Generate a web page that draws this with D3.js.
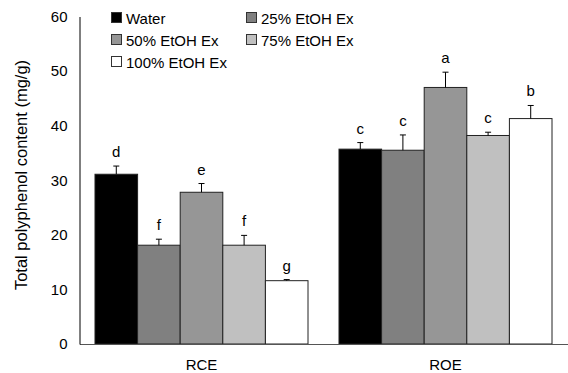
<!DOCTYPE html>
<html><head><meta charset="utf-8">
<script src="https://cdn.jsdelivr.net/npm/d3@7"></script>
<style>body{margin:0;background:#fff}svg{display:block}text{font-family:Arial,"Liberation Sans",sans-serif}</style>
</head><body><svg id="c" width="568" height="373"></svg>
<script>
const categories = ["RCE", "ROE"];
const seriesNames = ["Water", "25% EtOH Ex", "50% EtOH Ex", "75% EtOH Ex", "100% EtOH Ex"];
const seriesColors = ["#000000", "#808080", "#969696", "#c0c0c0", "#ffffff"];
const values = [[31.1, 35.7], [18.1, 35.5], [27.8, 47.0], [18.1, 38.2], [11.6, 41.3]];
const errors = [[1.5, 1.2], [1.1, 2.8], [1.6, 2.8], [1.8, 0.6], [0.2, 2.4]];
const letters = [["d", "c"], ["f", "c"], ["e", "a"], ["f", "c"], ["g", "b"]];
const yTicks = [0, 10, 20, 30, 40, 50, 60];

(function () {
const svg = d3.select("#c");
const mLeft = 79.5, mRight = 567.5, mTop = 16.5, mBottom = 344;
const x = d3.scaleBand().domain(categories).range([mLeft, mRight]).paddingInner(0.127).paddingOuter(0.0635);
const xs = d3.scaleBand().domain(seriesNames).range([0, x.bandwidth()]);
const y = d3.scaleLinear().domain([0, 60]).range([mBottom, mTop]);

// y axis
const ya = svg.append("g").attr("transform", `translate(${mLeft},0)`)
  .call(d3.axisLeft(y).tickValues(yTicks).tickSize(0).tickPadding(12).tickSizeOuter(0));
ya.select(".domain").attr("stroke", "#000");
ya.selectAll("text").attr("font-size", 15).attr("fill", "#000");

svg.append("text").attr("transform", `translate(23,175) rotate(-90)`)
  .attr("text-anchor", "middle").attr("dominant-baseline", "middle").attr("font-size", 16.5).text("Total polyphenol content (mg/g)");

// bars
seriesNames.forEach((s, i) => {
  const g = svg.append("g");
  categories.forEach((c, j) => {
    const bx = x(c) + xs(s), v = values[i][j], e = errors[i][j];
    const cx = bx + xs.bandwidth() / 2;
    g.append("rect").attr("x", bx).attr("y", y(v)).attr("width", xs.bandwidth()).attr("height", y(0) - y(v))
      .attr("fill", seriesColors[i]).attr("stroke", "#222").attr("stroke-width", 1);
    g.append("line").attr("x1", cx).attr("x2", cx).attr("y1", y(v)).attr("y2", y(v + e)).attr("stroke", "#000");
    g.append("line").attr("x1", cx - 3).attr("x2", cx + 3).attr("y1", y(v + e)).attr("y2", y(v + e)).attr("stroke", "#000");
    g.append("text").attr("x", cx).attr("y", y(v + e) - 9).attr("text-anchor", "middle").attr("font-size", 15).text(letters[i][j]);
  });
});

// x axis
const xa = svg.append("g").attr("transform", `translate(0,${mBottom})`)
  .call(d3.axisBottom(x).tickSize(0).tickPadding(15).tickSizeOuter(0));
xa.select(".domain").attr("stroke", "#555");
xa.selectAll("text").attr("font-size", 15).attr("fill", "#000");
ya.raise();

// legend
const legPos = [[111, 18], [246, 18], [111, 40], [246, 40], [111, 62]];
seriesNames.forEach((s, i) => {
  const [lx, ly] = legPos[i];
  svg.append("rect").attr("x", lx + 0.5).attr("y", ly - 5.5).attr("width", 10).attr("height", 10)
    .attr("fill", seriesColors[i]).attr("stroke", "#333");
  svg.append("text").attr("x", lx + 15).attr("y", ly + 5.5).attr("font-size", 15).text(s);
});
})();
</script></body></html>
